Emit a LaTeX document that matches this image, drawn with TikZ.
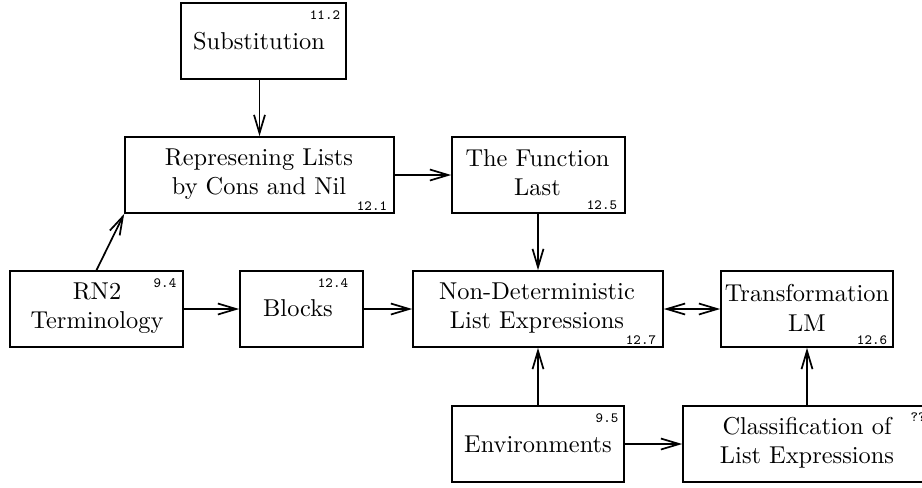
\documentclass[tikz,border=0pt]{standalone}
\usetikzlibrary{arrows.meta}
\begin{document}
\begin{tikzpicture}[x=0.41pt,y=-0.41pt,
  box/.style={draw, line width=0.7pt, inner sep=0pt, minimum height=76*0.41pt},
  txt/.style={align=center, inner sep=0pt},
  num/.style={inner sep=0pt, font=\fontsize{5.8}{7}\selectfont\ttfamily},
  arr/.style={line width=0.7pt, -{Straight Barb[length=7.5pt,width=4.5pt]}},
  darr/.style={line width=0.7pt, {Straight Barb[length=7.5pt,width=4.5pt]}-{Straight Barb[length=7.5pt,width=4.5pt]}}]
\useasboundingbox (0,0) rectangle (922,487);
% boxes
\node[box, minimum width=165*0.41pt] (sub) at (263.5,41) {};
\node[box, minimum width=269*0.41pt] (rep) at (259.5,175) {};
\node[box, minimum width=173*0.41pt] (fun) at (538.5,175) {};
\node[box, minimum width=173*0.41pt] (rn2) at (96.5,309) {};
\node[box, minimum width=123*0.41pt] (blk) at (301.5,309) {};
\node[box, minimum width=250*0.41pt] (nd) at (538,309) {};
\node[box, minimum width=172*0.41pt] (tr) at (807,309) {};
\node[box, minimum width=172*0.41pt] (env) at (538,444) {};
\node[box, minimum width=248*0.41pt] (cls) at (807,444) {};
% texts
\node[txt] (subT) at (259,41) {Substitution};
\node[txt] (repT) at (259,174) {Represening Lists\\by Cons and Nil};
\node[txt] (funT) at (537.5,173) {The Function\\Last};
\node[txt] (rn2T) at (97,308) {RN2\\Terminology};
\node[txt] (blkT) at (298,308) {Blocks};
\node[txt] (ndT) at (537,308) {Non-Deterministic\\List Expressions};
\node[txt] (trT) at (807,308) {Transformation\\LM};
\node[txt] (envT) at (538,444) {Environments};
\node[txt] (clsT) at (807,443) {Classification of\\List Expressions};
% numbers
\node[num] (subN) at (325,15) {11.2};
\node[num] (repN) at (372,206) {12.1};
\node[num] (funN) at (602,205) {12.5};
\node[num] (rn2N) at (165,283) {9.4};
\node[num] (blkN) at (333,283) {12.4};
\node[num] (ndN) at (641,340) {12.7};
\node[num] (trN) at (872,340) {12.6};
\node[num] (envN) at (607,418) {9.5};
\node[num] (clsN) at (918,417) {??};
% connectors
\draw[arr] (rep.north |- sub.south) -- (rep.north);
\draw[arr] (rep.east) -- (fun.west);
\draw[arr] (rn2.north) -- (rep.south west);
\draw[arr] (rn2.east) -- (blk.west);
\draw[arr] (blk.east) -- (nd.west);
\draw[arr] (nd.north |- fun.south) -- (nd.north);
\draw[darr] (nd.east) -- (tr.west);
\draw[arr] (env.north) -- (nd.south);
\draw[arr] (env.east) -- (cls.west);
\draw[arr] (cls.north) -- (tr.south);
\end{tikzpicture}
\end{document}
